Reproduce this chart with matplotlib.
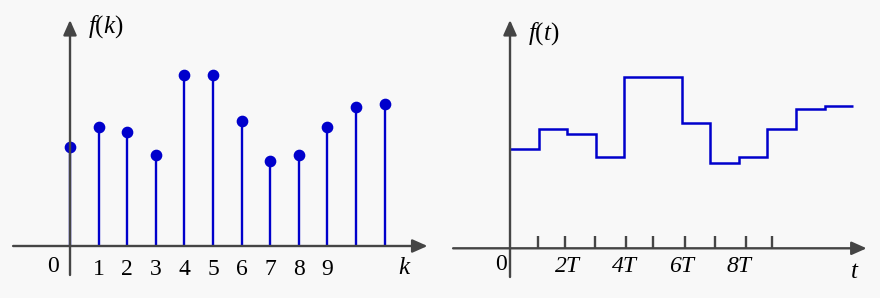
import numpy as np
import matplotlib
matplotlib.use("Agg")
import matplotlib.pyplot as plt

# Werte f(k) bzw. f(t) = f(k) fuer kT <= t < (k+1)T
k = np.arange(12)
f = [9.9, 11.9, 11.4, 9.1, 17.1, 17.1, 12.5, 8.5, 9.1, 11.9, 13.9, 14.2]
k_labels = ['1', '2', '3', '4', '5', '6', '7', '8', '9']
t_ticks = [0.99, 1.92, 2.97, 4.06, 5.0, 6.12, 7.17, 8.25, 9.16]
t_labels = ['2T', '4T', '6T', '8T']
t_label_pos = [2, 4, 6, 8]

blau = '#0000cc'
grau = '#454545'
bg = '#f8f8f8'

plt.rcParams.update({
    'font.family': 'Liberation Serif',
    'mathtext.fontset': 'custom',
    'mathtext.rm': 'Liberation Serif',
    'mathtext.it': 'Liberation Serif:italic',
})

fig = plt.figure(figsize=(8.8, 2.98), dpi=100, facecolor=bg)
ax1 = fig.add_axes([0, 0, 0.5, 1])
ax2 = fig.add_axes([0.5, 0, 0.5, 1])

def pfeil(ax, start, ende):
    ax.annotate('', xy=ende, xytext=start,
                arrowprops=dict(arrowstyle='-|>,head_length=0.45,head_width=0.2',
                                color=grau, lw=1.7, mutation_scale=20,
                                shrinkA=0, shrinkB=0))

############ links: diskretes Signal ############
ax1.set_xlim(-2.448, 12.937)
ax1.set_ylim(-5.2, 24.6)
pfeil(ax1, (-1.99, 0), (12.5, 0))
pfeil(ax1, (0, -2.9), (0, 22.6))
ml, sl, bl = ax1.stem(k, f, linefmt='-', markerfmt='o', basefmt=' ')
plt.setp(sl, color=blau, lw=1.7)
plt.setp(ml, color=blau, markersize=7.4)
ax1.text(-0.59, -2.05, '0', fontsize=17, ha='center', va='center')
for i, lab in enumerate(k_labels):
    ax1.text(i + 1, -2.35, lab, fontsize=17, ha='center', va='center')
ax1.text(11.71, -2.25, r'$k$', fontsize=18, ha='center', va='center')
ax1.text(1.26, 21.9, r'$f(k)$', fontsize=18, ha='center', va='center')

############ rechts: Treppenfunktion ############
ax2.set_xlim(-2.448, 12.937)
ax2.set_ylim(-4.97, 24.83)
pfeil(ax2, (-1.99, 0), (12.47, 0))
pfeil(ax2, (0, -2.87), (0, 22.83))
ax2.stairs(f, np.arange(13), baseline=None, color=blau, lw=1.8)
ax2.vlines(t_ticks, 0, 1.2, color=grau, lw=1.7)
ax2.text(-0.31, -1.57, '0', fontsize=17, ha='center', va='center')
for pos, lab in zip(t_label_pos, t_labels):
    ax2.text(pos, -1.87, lab, fontsize=17, ha='center', va='center', style='italic')
ax2.text(12.06, -2.32, r'$t$', fontsize=18, ha='center', va='center')
ax2.text(1.19, 21.5, r'$f(t)$', fontsize=18, ha='center', va='center')

for ax in (ax1, ax2):
    ax.set_facecolor(bg)
    ax.axis('off')

plt.savefig('out.png', dpi=100, facecolor=bg)
